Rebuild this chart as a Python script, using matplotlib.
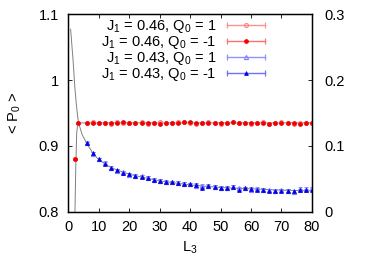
import matplotlib
matplotlib.use("Agg")
import matplotlib.pyplot as plt
from matplotlib.lines import Line2D
from matplotlib.legend_handler import HandlerBase

plt.rcParams['font.family'] = ['Liberation Sans', 'DejaVu Sans']
plt.rcParams['mathtext.fontset'] = 'custom'
plt.rcParams['mathtext.rm'] = 'Liberation Sans'
plt.rcParams['mathtext.it'] = 'Liberation Sans'

# lattice sizes
L_red = [2, 3, 6, 8, 10, 12, 14, 16, 18, 20, 22, 24, 26, 28, 30, 32, 34, 36, 38, 40,
         42, 44, 46, 48, 50, 52, 54, 56, 58, 60, 62, 64, 66, 68, 70, 72, 74, 76, 78, 80]
L_blue = L_red[2:]

# J1 = 0.46
p_046_q1 = [0.880, 0.935, 0.935, 0.936, 0.935, 0.935, 0.934, 0.937, 0.935, 0.935,
            0.935, 0.936, 0.934, 0.935, 0.936, 0.935, 0.935, 0.936, 0.937, 0.935,
            0.933, 0.935, 0.936, 0.935, 0.934, 0.935, 0.936, 0.935, 0.935, 0.934,
            0.935, 0.936, 0.933, 0.935, 0.936, 0.935, 0.934, 0.935, 0.935, 0.935]
p_046_qm1 = [0.880, 0.935, 0.935, 0.935, 0.935, 0.935, 0.935, 0.935, 0.936, 0.935,
             0.935, 0.935, 0.935, 0.935, 0.934, 0.935, 0.935, 0.935, 0.936, 0.936,
             0.935, 0.935, 0.935, 0.935, 0.935, 0.935, 0.936, 0.935, 0.935, 0.935,
             0.935, 0.935, 0.934, 0.935, 0.935, 0.935, 0.935, 0.934, 0.935, 0.935]
err_046 = [0.0015] * len(L_red)

# J1 = 0.43
p_043_q1 = [0.905, 0.888, 0.880, 0.874, 0.867, 0.862, 0.860, 0.856, 0.855, 0.854,
            0.852, 0.849, 0.847, 0.845, 0.845, 0.844, 0.843, 0.842, 0.840, 0.840,
            0.839, 0.838, 0.837, 0.837, 0.838, 0.836, 0.836, 0.834, 0.835, 0.834,
            0.833, 0.832, 0.833, 0.832, 0.830, 0.835, 0.835, 0.836]
p_043_qm1 = [0.904, 0.889, 0.880, 0.873, 0.867, 0.863, 0.859, 0.857, 0.855, 0.853,
             0.852, 0.849, 0.847, 0.846, 0.845, 0.844, 0.843, 0.842, 0.841, 0.837,
             0.840, 0.838, 0.837, 0.837, 0.838, 0.834, 0.836, 0.835, 0.834, 0.834,
             0.832, 0.831, 0.832, 0.832, 0.831, 0.833, 0.833, 0.834]
err_043 = [0.0025] * len(L_blue)

# fit curves
fit_043_L = [0.7, 1.5, 2.1, 2.6, 3.0, 3.3, 4.5, 6, 8, 10, 14, 20, 30, 40, 50, 60, 70, 80]
fit_043_p = [1.077, 1.030, 0.988, 0.962, 0.945, 0.935, 0.917, 0.904, 0.889, 0.879,
             0.867, 0.857, 0.847, 0.841, 0.837, 0.835, 0.833, 0.832]
fit_046_L = [2.1, 2.4, 2.7, 3.0, 3.5, 80]
fit_046_p = [0.795, 0.870, 0.920, 0.932, 0.935, 0.935]

labels = [r'J$_1$ = 0.46, Q$_0$ = 1', r'J$_1$ = 0.46, Q$_0$ = -1',
          r'J$_1$ = 0.43, Q$_0$ = 1', r'J$_1$ = 0.43, Q$_0$ = -1']
styles = [
    dict(marker='o', ms=2.8, mfc='none', mec='#ff8080', mew=0.8, ecolor='#ff9090'),
    dict(marker='o', ms=2.8, mfc='#f00000', mec='#f00000', mew=0.5, ecolor='#ff7070'),
    dict(marker='^', ms=3.0, mfc='none', mec='#8080ff', mew=0.8, ecolor='#9090ff'),
    dict(marker='^', ms=2.8, mfc='#0000e0', mec='#0000e0', mew=0.5, ecolor='#7070ff'),
]


class GnuErrHandler(HandlerBase):
    # horizontal sample line with end caps and a marker in the middle
    def create_artists(self, legend, orig, xd, yd, width, height, fontsize, trans):
        st = orig.st
        y = yd + height / 2
        line = Line2D([xd, xd + width], [y, y], color=st['ecolor'], lw=1.0, transform=trans)
        caps = Line2D([xd, xd + width], [y, y], ls='none', marker='|', ms=4,
                      mew=0.9, mec=st['ecolor'], transform=trans)
        mk = Line2D([xd + width / 2], [y], ls='none', marker=st['marker'], ms=st['ms'],
                    mfc=st['mfc'], mec=st['mec'], mew=st['mew'], transform=trans)
        return [line, caps, mk]


fig = plt.figure(figsize=(3.87, 2.71), dpi=100)
ax = fig.add_axes([0.177, 0.218, 0.629, 0.730])

ax.plot(fit_043_L, fit_043_p, color='#808080', lw=0.7, zorder=1)
ax.plot(fit_046_L, fit_046_p, color='#808080', lw=0.7, zorder=1)

series = [(L_red, p_046_q1, err_046), (L_red, p_046_qm1, err_046),
          (L_blue, p_043_q1, err_043), (L_blue, p_043_qm1, err_043)]
handles = []
for (xs, ys, es), st in zip(series, styles):
    ax.errorbar(xs, ys, yerr=es, fmt='none', ecolor=st['ecolor'], elinewidth=0.7,
                capsize=1.3, capthick=0.7, zorder=2)
    ax.plot(xs, ys, ls='none', marker=st['marker'], ms=st['ms'], mfc=st['mfc'],
            mec=st['mec'], mew=st['mew'], zorder=3)
    h = Line2D([], [])
    h.st = st
    handles.append(h)

ax.set_xlim(0, 80)
ax.set_ylim(0.8, 1.1)
ax.set_xticks(range(0, 81, 10))
ax.set_yticks([0.8, 0.9, 1.0, 1.1])
ax.set_yticklabels(['0.8', '0.9', '1', '1.1'])
ax.tick_params(axis='x', direction='in', top=True, length=3, width=0.6, labelsize=10.5, pad=6)
ax.tick_params(axis='y', direction='in', right=False, length=3, width=0.6, labelsize=10.5, pad=7)
ax.set_xlabel(r'L$_3$', fontsize=10.5, labelpad=4)
ax.set_ylabel(r'< P$_0$ >', fontsize=10.5, labelpad=11)
for s in ax.spines.values():
    s.set_linewidth(1.0)

ax2 = ax.twinx()
ax2.set_ylim(0, 0.3)
ax2.set_yticks([0, 0.1, 0.2, 0.3])
ax2.set_yticklabels(['0', '0.1', '0.2', '0.3'])
ax2.tick_params(axis='y', direction='in', length=3, width=0.6, labelsize=10.5, pad=9)

leg = ax.legend(handles, labels, handler_map={Line2D: GnuErrHandler()},
                loc='upper right', bbox_to_anchor=(0.807, 0.978), frameon=False,
                fontsize=10.5, markerfirst=False, handlelength=2.6, labelspacing=-0.08,
                borderaxespad=0, borderpad=0, handletextpad=0.7)
for col in leg._legend_handle_box.get_children():
    col.align = 'right'

fig.savefig('out.png', dpi=100)
plt.close(fig)
